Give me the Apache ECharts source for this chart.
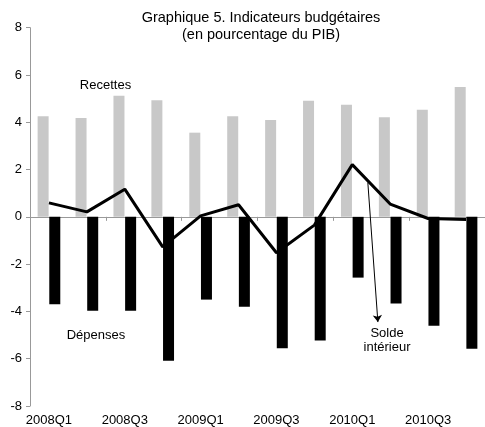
<!DOCTYPE html>
<html>
<head>
<meta charset="utf-8">
<script src="https://cdn.jsdelivr.net/npm/echarts@6/dist/echarts.min.js"></script>
<style>
html,body{margin:0;padding:0;background:#fff;}
#main{width:485px;height:427px;}
</style>
</head>
<body>
<div id="main"></div>
<script>
const categories = ['2008Q1','2008Q2','2008Q3','2008Q4','2009Q1','2009Q2','2009Q3','2009Q4','2010Q1','2010Q2','2010Q3','2010Q4'];
const recettes = [4.26, 4.18, 5.12, 4.93, 3.56, 4.26, 4.10, 4.91, 4.74, 4.21, 4.53, 5.49];
const depenses = [-3.70, -3.97, -3.97, -6.09, -3.50, -3.80, -5.56, -5.23, -2.57, -3.66, -4.61, -5.58];
const solde = [0.59, 0.21, 1.17, -1.27, 0.04, 0.51, -1.52, -0.35, 2.21, 0.54, -0.07, -0.11];
const arrowFrom = [8.41, 1.45];
const arrowTo = [8.675, -4.45];

const FONT = '"Liberation Sans", Arial, sans-serif';
const chart = echarts.init(document.getElementById('main'), null, {renderer: 'canvas'});

chart.setOption({
  animation: false,
  backgroundColor: '#fff',
  grid: {left: 30, top: 27.7, width: 460, height: 379, containLabel: false},
  xAxis: [
    {
      type: 'category', data: categories, position: 'bottom',
      axisLine: {show: false, onZero: false},
      axisTick: {show: false},
      axisLabel: {interval: 1, margin: 8, fontSize: 13, color: '#000', fontFamily: FONT},
      splitLine: {show: false}
    },
    {
      type: 'category', data: categories, position: 'bottom',
      axisLine: {show: true, onZero: true, lineStyle: {color: '#999', width: 1}},
      axisTick: {show: true, interval: 1, length: 4, lineStyle: {color: '#999'}},
      axisLabel: {show: false},
      splitLine: {show: false}
    },
    {
      type: 'value', min: -0.5, max: 11.5, show: false,
      axisLine: {onZero: false}
    }
  ],
  yAxis: {
    type: 'value', min: -8, max: 8, interval: 2, position: 'left',
    axisLine: {show: true, onZero: false, lineStyle: {color: '#999', width: 1}},
    axisTick: {show: true, length: 4, lineStyle: {color: '#999'}},
    axisLabel: {fontSize: 13, color: '#000', margin: 8, fontFamily: FONT},
    splitLine: {show: false}
  },
  series: [
    {
      name: 'Recettes', type: 'bar', xAxisIndex: 0, data: recettes,
      barWidth: 11, barGap: '6%',
      itemStyle: {color: '#C8C8C8'}
    },
    {
      name: 'Dépenses', type: 'bar', xAxisIndex: 0, data: depenses,
      barWidth: 11, barGap: '6%',
      itemStyle: {color: '#000'}
    },
    {
      name: 'Solde intérieur', type: 'line', xAxisIndex: 0, data: solde,
      showSymbol: false, symbol: 'none', z: 5,
      lineStyle: {color: '#000', width: 3}
    },
    {
      type: 'lines', coordinateSystem: 'cartesian2d', xAxisIndex: 2, yAxisIndex: 0,
      symbol: ['none', 'arrow'], symbolSize: 7, z: 6,
      lineStyle: {color: '#000', width: 1, opacity: 1},
      data: [{coords: [arrowFrom, arrowTo]}]
    }
  ],
  graphic: [
    {type: 'text', x: 261, y: 18, style: {text: 'Graphique 5. Indicateurs budgétaires', align: 'center', verticalAlign: 'middle', font: '14.5px ' + FONT, fill: '#000'}},
    {type: 'text', x: 261, y: 35, style: {text: '(en pourcentage du PIB)', align: 'center', verticalAlign: 'middle', font: '14.5px ' + FONT, fill: '#000'}},
    {type: 'text', x: 105.5, y: 85, style: {text: 'Recettes', align: 'center', verticalAlign: 'middle', font: '13px ' + FONT, fill: '#000'}},
    {type: 'text', x: 96, y: 335, style: {text: 'Dépenses', align: 'center', verticalAlign: 'middle', font: '13px ' + FONT, fill: '#000'}},
    {type: 'text', x: 387, y: 333.3, style: {text: 'Solde', align: 'center', verticalAlign: 'middle', font: '13px ' + FONT, fill: '#000'}},
    {type: 'text', x: 387, y: 347.7, style: {text: 'intérieur', align: 'center', verticalAlign: 'middle', font: '13px ' + FONT, fill: '#000'}}
  ]
});
</script>
</body>
</html>
